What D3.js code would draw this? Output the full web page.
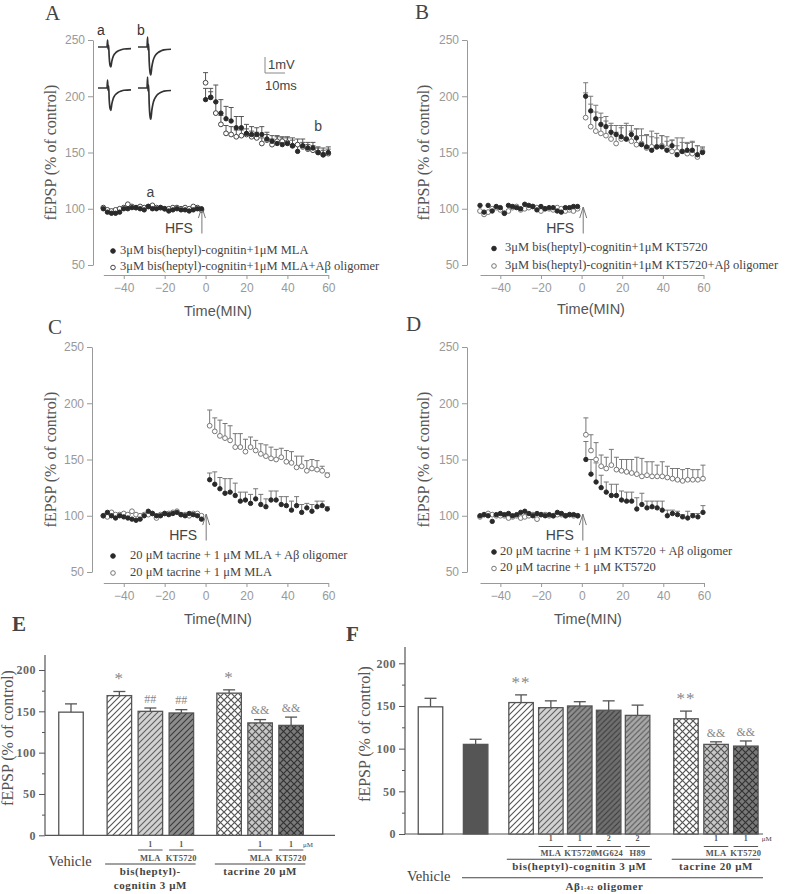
<!DOCTYPE html>
<html><head><meta charset="utf-8">
<script src="https://cdn.jsdelivr.net/npm/d3@7"></script>
<style>body{margin:0;background:#fff}</style>
</head><body>
<script>
// ---------------- DATA ----------------
const xTickVals = [-40,-20,0,20,40,60];
const yTickVals = [50,100,150,200,250];
const preTimes = [-50,-48,-46,-44,-42,-40,-38,-36,-34,-32,-30,-28,-26,-24,-22,-20,-18,-16,-14,-12,-10,-8,-6,-4,-2];
const postTimesA = [0,2.5,5,7.5,10,12.5,15,17.5,20,22.5,25,27.5,30,32.5,35,37.5,40,42.5,45,47.5,50,52.5,55,57.5,60];
const postTimes = [2,4.5,7,9.5,12,14.5,17,19.5,22,24.5,27,29.5,32,34.5,37,39.5,42,44.5,47,49.5,52,54.5,57,59.5];

// Panel A
const aPreFilled = [100,97,96,96,97,100,100,101,101,100,99,102,100,100,101,100,98,99,100,99,99,98,99,100,100];
const aPreOpen   = [101,99,98,99,100,101,104,102,101,102,101,102,103,101,101,100,100,101,101,100,101,100,102,101,99];
const aPostFilled = [197,199,195,185,180,178,172,172,167,166,166,166,162,160,158,157,158,156,151,156,154,154,150,148,150];
const aPostFilledErr = [10,8,15,12,11,12,10,10,8,7,6,7,6,5,6,6,6,7,7,6,5,5,5,6,5];
const aPostOpen = [212,199,185,175,167,166,164,165,166,164,163,158,161,157,160,160,159,156,157,155,153,152,150,148,149];
const aPostOpenErr = [9,5,10,8,7,7,6,5,5,5,5,5,5,5,5,4,4,5,5,4,4,4,4,4,4];
const aLegend = ["3\u03bcM bis(heptyl)-cognitin+1\u03bcM MLA","3\u03bcM bis(heptyl)-cognitin+1\u03bcM MLA+A\u03b2 oligomer"];

// Panel B
const bPreFilled = [103,97,103,98,102,101,96,103,102,101,100,104,103,102,99,102,100,101,101,98,97,101,101,102,102];
const bPreOpen   = [98,95,97,100,101,99,96,98,101,102,99,100,101,102,101,98,100,100,99,101,100,98,99,98,100];
const bPostFilled = [200,187,180,175,173,168,166,164,162,166,163,157,155,152,155,155,152,156,148,151,152,152,148,150];
const bPostFilledErr = [12,13,12,10,9,8,8,8,12,8,8,8,10,12,8,10,8,5,8,8,6,8,8,4];
const bPostOpen = [181,173,169,167,165,162,158,162,162,160,157,158,154,155,155,156,154,151,151,151,149,149,146,151];
const bPostOpenErr = [22,20,17,14,13,12,10,12,14,9,14,13,12,14,12,9,10,10,12,12,10,10,10,4];
const bLegend = ["3\u03bcM bis(heptyl)-cognitin+1\u03bcM KT5720","3\u03bcM bis(heptyl)-cognitin+1\u03bcM KT5720+A\u03b2 oligomer"];

// Panel C
const cPreFilled = [100,103,100,98,100,99,98,97,96,97,100,104,102,100,100,102,101,102,103,101,100,102,101,100,97];
const cPreOpen   = [100,99,103,101,101,102,101,104,101,100,101,101,102,98,101,102,102,103,104,101,101,100,102,102,100];
const cPostFilled = [132,128,124,120,121,118,113,114,111,115,110,108,114,114,110,109,105,109,103,107,104,108,109,106];
const cPostFilledErr = [6,11,10,13,12,11,8,7,8,9,9,7,8,8,7,8,8,8,7,4,6,5,4,2];
const cPostOpen = [180,175,171,169,167,161,161,157,161,158,155,153,151,150,152,148,147,143,144,140,142,141,140,136];
const cPostOpenErr = [14,12,14,13,13,12,12,11,9,9,9,10,10,9,8,10,10,10,9,9,8,8,4,2];
const cLegend = ["20 \u03bcM tacrine + 1 \u03bcM MLA + A\u03b2 oligomer","20 \u03bcM tacrine + 1 \u03bcM MLA"];

// Panel D
const dPreFilled = [100,101,100,95,101,102,101,102,100,101,103,104,102,100,102,101,100,101,100,103,102,100,101,101,100];
const dPreOpen   = [99,101,102,101,100,100,100,98,99,100,98,99,100,101,97,101,101,100,100,101,101,100,101,100,100];
const dPostFilled = [150,137,130,125,121,118,118,114,113,113,106,110,107,108,107,105,100,102,101,99,98,100,99,103];
const dPostFilledErr = [16,13,17,11,9,10,10,8,8,8,10,10,6,5,6,8,5,3,3,2,6,2,3,6];
const dPostOpen = [172,158,150,144,142,145,141,140,139,138,137,135,136,135,135,135,134,133,132,131,132,132,132,133];
const dPostOpenErr = [15,14,15,10,10,14,11,10,11,12,15,16,12,13,10,13,10,9,10,10,10,9,9,12];
const dLegend = ["20 \u03bcM tacrine + 1 \u03bcM KT5720 + A\u03b2 oligomer","20 \u03bcM tacrine + 1 \u03bcM KT5720"];

// Inset traces (ms, normalized amplitude) and trace amplitudes in mV
const traceMs    = [0,4.5,4.8,5.0,5.3,5.6,6.0,6.4,6.9,7.5,8.2,9,10,11.5,13,16.5];
const traceShape = [0,0,0.35,-0.1,0.1,-0.5,-0.9,-1,-0.72,-0.5,-0.36,-0.27,-0.2,-0.14,-0.1,-0.08];
const traceAmps  = [1.25,1.75,1.4,1.95];
const traceNames = ["a","b"];

// Panel E
const eValues = [149,169,150,148,172,136,133];
const eErrors = [10,5,4,4,4,4,10];
const eMarks  = ["","*","##","##","*","&&","&&"];
const eDoses  = ["","","1","1","","1","1"];
const eDrugs  = ["","","MLA","KT5720","","MLA","KT5720"];
const eYTicks = [0,50,100,150,200];

// Panel F
const fValues = [149,105,154,148,150,145,139,135,105,103];
const fErrors = [10,6,9,8,5,11,12,9,3,6];
const fMarks  = ["","","**","","","","","**","&&","&&"];
const fDoses  = ["","","","1","1","2","2","","1","1"];
const fDrugs  = ["","","","MLA","KT5720","MG624","H89","","MLA","KT5720"];
const fYTicks = [0,50,100,150,200];

// ---------------- DRAWING ----------------
const SERIF = "'Liberation Serif','Times New Roman',serif";
const SANS = "'Liberation Sans',Arial,sans-serif";
const svg = d3.select("body").append("svg").attr("width",787).attr("height",894)
  .style("background","#fff");

const defs = svg.append("defs");
function diagPattern(id,bg,stroke,s){
  const p = defs.append("pattern").attr("id",id).attr("patternUnits","userSpaceOnUse")
    .attr("width",s).attr("height",s);
  p.append("rect").attr("width",s).attr("height",s).attr("fill",bg);
  p.append("path").attr("d",`M${-s/2},${s/2} L${s/2},${-s/2} M0,${s} L${s},0 M${s/2},${s*1.5} L${s*1.5},${s/2}`)
    .attr("stroke",stroke).attr("stroke-width",1.1);
}
function crossPattern(id,bg,stroke,s){
  const p = defs.append("pattern").attr("id",id).attr("patternUnits","userSpaceOnUse")
    .attr("width",s).attr("height",s);
  p.append("rect").attr("width",s).attr("height",s).attr("fill",bg);
  p.append("path").attr("d",`M0,0 L${s},${s} M${s},0 L0,${s}`)
    .attr("stroke",stroke).attr("stroke-width",1.2);
}
diagPattern("dW","#ffffff","#555",6);
diagPattern("dL","#d2d2d2","#606060",6);
diagPattern("dD","#8c8c8c","#3a3a3a",6);
diagPattern("dM","#8e8e8e","#444",5.5);
diagPattern("dD2","#6f6f6f","#3a3a3a",5.5);
diagPattern("dM2","#a8a8a8","#555",5.5);
crossPattern("cW","#ffffff","#555",7);
crossPattern("cL","#c9c9c9","#555",7);
crossPattern("cD","#7a7a7a","#333",7);

function timePanel(p){
  const x = d3.scaleLinear().domain([-50,60]).range(p.xr);
  const y = d3.scaleLinear().domain([50,250]).range(p.yr);
  const g = svg.append("g");
  const ya = g.append("g").attr("transform",`translate(${p.yx},0)`)
    .call(d3.axisLeft(y).tickValues(yTickVals).tickSize(5).tickSizeOuter(0).tickPadding(3));
  ya.select(".domain").attr("stroke","#999");
  ya.selectAll(".tick line").attr("stroke","#999");
  ya.selectAll(".tick text").attr("fill","#999").style("font-family",SANS).style("font-size","12px");
  const xa = g.append("g").attr("transform",`translate(0,${p.xy})`)
    .call(d3.axisBottom(x).tickValues(xTickVals).tickSize(4).tickSizeOuter(0).tickPadding(4));
  xa.select(".domain").attr("stroke","#999");
  xa.selectAll(".tick line").attr("stroke","#999");
  xa.selectAll(".tick text").attr("fill","#999").style("font-family",SANS).style("font-size","12px");
  g.append("text").attr("x",p.tx).attr("y",p.ty).attr("text-anchor","middle")
    .attr("dominant-baseline","middle").style("font-family",SANS).style("font-size","14.5px")
    .attr("fill","#555").text("Time(MIN)");
  const ymid = (p.yr[0]+p.yr[1])/2;
  g.append("text").attr("transform",`translate(${p.lx},${ymid}) rotate(-90)`)
    .attr("text-anchor","middle").attr("dominant-baseline","middle")
    .style("font-family",SERIF).style("font-size","16px").attr("fill","#555")
    .text("fEPSP (% of control)");
  g.append("text").attr("x",p.letter[1]).attr("y",p.letter[2]).attr("dominant-baseline","middle")
    .style("font-family",SERIF).style("font-size","21px").attr("fill","#444").text(p.letter[0]);
  const ax = x(p.hfsT);
  g.append("line").attr("x1",ax).attr("x2",ax).attr("y1",y(78)).attr("y2",y(101.5))
    .attr("stroke","#777").attr("stroke-width",1);
  g.append("path").attr("d",`M${ax-3.5},${y(101.5)+11} L${ax},${y(101.5)} L${ax+3.5},${y(101.5)+11}`)
    .attr("fill","none").attr("stroke","#777").attr("stroke-width",1);
  g.append("text").attr("x",ax-9).attr("y",y(82)).attr("text-anchor","end").attr("dominant-baseline","middle")
    .style("font-family",SANS).style("font-size","14px").attr("fill","#444").text("HFS");
  p.series.forEach(s=>{
    const pts = s.times.map((t,i)=>({t, v:s.vals[i], e: s.errs? s.errs[i]:0}));
    const eg = g.append("g").attr("stroke",p.errColor).attr("stroke-width",1);
    pts.filter(d=>d.e>0).forEach(d=>{
      eg.append("line").attr("x1",x(d.t)).attr("x2",x(d.t)).attr("y1",y(d.v)).attr("y2",y(d.v+d.e));
      eg.append("line").attr("x1",x(d.t)-2.5).attr("x2",x(d.t)+2.5).attr("y1",y(d.v+d.e)).attr("y2",y(d.v+d.e));
    });
  });
  p.series.forEach(s=>{
    g.append("g").selectAll("circle").data(s.times.map((t,i)=>[t,s.vals[i]])).join("circle")
      .attr("cx",d=>x(d[0])).attr("cy",d=>y(d[1])).attr("r",s.filled?2.2:2.4)
      .attr("fill",s.filled?"#2a2a2a":"#fff").attr("stroke",s.filled?"#2a2a2a":p.openColor).attr("stroke-width",1);
  });
  p.legend.forEach((txt,i)=>{
    const ly = p.leg.y + i*p.leg.dy;
    g.append("circle").attr("cx",p.leg.mx).attr("cy",ly).attr("r",2.3)
      .attr("fill",i===p.leg.filledIndex?"#2a2a2a":"#fff")
      .attr("stroke",i===p.leg.filledIndex?"#2a2a2a":p.openColor);
    g.append("text").attr("x",p.leg.tx).attr("y",ly).attr("dominant-baseline","middle")
      .style("font-family",SERIF).style("font-size","12.5px").attr("fill","#444").text(txt);
  });
  return {x,y,g};
}

const A = timePanel({xr:[103.3,328.3], yr:[265,40], yx:93, xy:275, tx:218, ty:312, lx:52,
  letter:["A",45,15], hfsT:-1.8, errColor:"#555", openColor:"#444",
  series:[
    {times:preTimes, vals:aPreOpen, filled:false},
    {times:preTimes, vals:aPreFilled, filled:true},
    {times:postTimesA, vals:aPostOpen, errs:aPostOpenErr, filled:false},
    {times:postTimesA, vals:aPostFilled, errs:aPostFilledErr, filled:true}],
  legend:aLegend, leg:{mx:113, tx:120, y:251, dy:16.5, filledIndex:0}});
const B = timePanel({xr:[480,703.5], yr:[265,40], yx:467, xy:275, tx:591, ty:310, lx:425,
  letter:["B",415,14], hfsT:0.8, errColor:"#777", openColor:"#777",
  series:[
    {times:preTimes, vals:bPreOpen, filled:false},
    {times:preTimes, vals:bPreFilled, filled:true},
    {times:postTimes, vals:bPostOpen, errs:bPostOpenErr, filled:false},
    {times:postTimes, vals:bPostFilled, errs:bPostFilledErr, filled:true}],
  legend:bLegend, leg:{mx:494, tx:505, y:248.5, dy:17.5, filledIndex:0}});
const C = timePanel({xr:[103.3,328.3], yr:[572,347], yx:92, xy:583, tx:218, ty:620, lx:52,
  letter:["C",48,329], hfsT:0.3, errColor:"#777", openColor:"#777",
  series:[
    {times:preTimes, vals:cPreOpen, filled:false},
    {times:preTimes, vals:cPreFilled, filled:true},
    {times:postTimes, vals:cPostOpen, errs:cPostOpenErr, filled:false},
    {times:postTimes, vals:cPostFilled, errs:cPostFilledErr, filled:true}],
  legend:cLegend, leg:{mx:113, tx:130, y:556, dy:17, filledIndex:0}});
const D = timePanel({xr:[480,704], yr:[572,347], yx:467, xy:583, tx:588, ty:620, lx:425,
  letter:["D",406,326], hfsT:0.5, errColor:"#777", openColor:"#777",
  series:[
    {times:preTimes, vals:dPreOpen, filled:false},
    {times:preTimes, vals:dPreFilled, filled:true},
    {times:postTimes, vals:dPostOpen, errs:dPostOpenErr, filled:false},
    {times:postTimes, vals:dPostFilled, errs:dPostFilledErr, filled:true}],
  legend:dLegend, leg:{mx:494, tx:500, y:552, dy:16.5, filledIndex:0}});

A.g.append("text").attr("x",A.x(-27)).attr("y",A.y(114)).attr("text-anchor","middle").attr("dominant-baseline","middle")
  .style("font-family",SANS).style("font-size","14px").attr("fill","#444").text("a");
A.g.append("text").attr("x",A.x(55)).attr("y",A.y(172)).attr("text-anchor","middle").attr("dominant-baseline","middle")
  .style("font-family",SANS).style("font-size","14px").attr("fill","#444").text("b");

// Inset traces
const msScale = d3.scaleLinear().domain([0,10]).range([0,20]);
const mvScale = d3.scaleLinear().domain([0,1]).range([0,-16]);
const traceOrigins = [[98,47],[138,47],[98,88],[138,88]];
traceAmps.forEach((amp,i)=>{
  const [ox,oy] = traceOrigins[i];
  const line = d3.line().x(d=>ox+msScale(d[0])).y(d=>oy+mvScale(d[1]*amp)).curve(d3.curveMonotoneX);
  svg.append("path").attr("d",line(traceMs.map((t,j)=>[t,traceShape[j]])))
    .attr("fill","none").attr("stroke","#333").attr("stroke-width",1.7);
});
traceNames.forEach((n,i)=>{
  svg.append("text").attr("x",traceOrigins[i][0]+3).attr("y",31).attr("text-anchor","middle")
    .attr("dominant-baseline","middle").style("font-family",SANS).style("font-size","14px")
    .attr("fill","#333").text(n);
});
const sbx = 265, sby = 73;
svg.append("path").attr("d",`M${sbx},${sby+mvScale(1)} L${sbx},${sby} L${sbx+msScale(10)},${sby}`)
  .attr("fill","none").attr("stroke","#888").attr("stroke-width",1);
svg.append("text").attr("x",sbx+3).attr("y",66).attr("dominant-baseline","middle")
  .style("font-family",SANS).style("font-size","13px").attr("fill","#444").text("1mV");
svg.append("text").attr("x",sbx).attr("y",87).attr("dominant-baseline","middle")
  .style("font-family",SANS).style("font-size","13px").attr("fill","#444").text("10ms");

// ---------------- BAR PANELS ----------------
function barPanel(p){
  const g = svg.append("g");
  const y = d3.scaleLinear().domain([0,200]).range([p.y0,p.y200]);
  const x = d3.scaleLinear().domain([0,1]).range([p.x0,p.x0+p.slot]);
  g.append("line").attr("x1",p.ax).attr("x2",p.ax).attr("y1",y(0)).attr("y2",y(p.ytop)).attr("stroke","#555").attr("stroke-width",1.2);
  g.append("line").attr("x1",p.ax).attr("x2",p.xend).attr("y1",y(0)).attr("y2",y(0)).attr("stroke","#555").attr("stroke-width",1.2);
  const ya = g.append("g").attr("transform",`translate(${p.ax},0)`)
    .call(d3.axisLeft(y).tickValues(p.ticks).tickSize(6).tickSizeOuter(0).tickPadding(3));
  ya.select(".domain").remove();
  ya.selectAll(".tick line").attr("stroke","#555");
  ya.selectAll(".tick text").attr("fill","#666").style("font-family",SERIF).style("font-size","12px").style("font-weight","bold")
    .style("letter-spacing","0.5px");
  g.append("g").attr("transform",`translate(${p.ax},0)`)
    .call(d3.axisLeft(y).tickValues([25,75,125,175]).tickSize(3).tickFormat(""))
    .call(a=>{a.select(".domain").remove(); a.selectAll(".tick line").attr("stroke","#555");});
  g.append("text").attr("transform",`translate(${p.lx},${p.ly}) rotate(-90)`)
    .attr("text-anchor","middle").attr("dominant-baseline","middle")
    .style("font-family",SERIF).style("font-size","16px").attr("fill","#555").text("fEPSP (% of control)");
  g.append("text").attr("x",p.letter[1]).attr("y",p.letter[2]).attr("dominant-baseline","middle")
    .style("font-family",SERIF).style("font-size","21px").style("font-weight","bold").attr("fill","#444").text(p.letter[0]);
  const bw = p.bw;
  p.values.forEach((v,i)=>{
    const cx = x(p.slots[i]);
    g.append("rect").attr("x",cx-bw/2).attr("y",y(v)).attr("width",bw).attr("height",y(0)-y(v))
      .attr("fill",p.fills[i]).attr("stroke","#555").attr("stroke-width",1.3);
    const e = p.errors[i];
    g.append("line").attr("x1",cx).attr("x2",cx).attr("y1",y(v)).attr("y2",y(v+e)).attr("stroke","#555").attr("stroke-width",1.3);
    g.append("line").attr("x1",cx-6).attr("x2",cx+6).attr("y1",y(v+e)).attr("y2",y(v+e)).attr("stroke","#555").attr("stroke-width",1.3);
    if(p.marks[i]){
      const star = p.marks[i].includes("*");
      g.append("text").attr("x",cx).attr("y",y(v+e)-(star?11:8)).attr("text-anchor","middle").attr("dominant-baseline","middle")
        .style("font-family",SERIF).style("font-size",star?"17px":"12px").style("letter-spacing",star?"1px":"0px")
        .attr("fill","#888").text(p.marks[i]);
    }
    if(p.doses[i]){
      g.append("text").attr("x",cx).attr("y",p.rowDose).attr("text-anchor","middle").attr("dominant-baseline","middle")
        .style("font-family",SERIF).style("font-size","8px").style("font-weight","bold").attr("fill","#555").text(p.doses[i]);
      g.append("line").attr("x1",cx-bw/2).attr("x2",cx+bw/2).attr("y1",p.rowLine).attr("y2",p.rowLine).attr("stroke","#555");
      g.append("text").attr("x",cx).attr("y",p.rowDrug).attr("text-anchor","middle").attr("dominant-baseline","middle")
        .style("font-family",SERIF).style("font-size","8.5px").style("font-weight","bold").style("letter-spacing","0.3px")
        .attr("fill","#555").text(p.drugs[i]);
    }
  });
  return {x,y,g};
}

const E = barPanel({y0:835.3, y200:670, ytop:218, ax:45, xend:335, x0:71, slot:31, bw:24.5,
  slots:[0,1.56,2.56,3.56,5.1,6.1,7.1], values:eValues, errors:eErrors, marks:eMarks, doses:eDoses, drugs:eDrugs,
  fills:["#fff","url(#dW)","url(#dL)","url(#dD)","url(#cW)","url(#cL)","url(#cD)"],
  ticks:eYTicks, lx:9, ly:738, letter:["E",12,626], rowDose:845, rowLine:850, rowDrug:859});
const F = barPanel({y0:834, y200:663.3, ytop:219, ax:405, xend:763, x0:430.5, slot:29.5, bw:24.5,
  slots:[0,1.53,3.07,4.08,5.06,6.04,7.02,8.66,9.68,10.69], values:fValues, errors:fErrors, marks:fMarks, doses:fDoses, drugs:fDrugs,
  fills:["#fff","#555","url(#dW)","url(#dL)","url(#dM)","url(#dD2)","url(#dM2)","url(#cW)","url(#cL)","url(#cD)"],
  ticks:fYTicks, lx:366, ly:734, letter:["F",346,636], rowDose:839, rowLine:846.5, rowDrug:854});

function grpLine(P,i0,i1,bw,yy){
  P.g.append("line").attr("x1",P.x(i0)-bw/2-2).attr("x2",P.x(i1)+bw/2+2).attr("y1",yy).attr("y2",yy)
    .attr("stroke","#444").attr("stroke-width",1.1);
}
function lbl(P,xx,yy,t,size,bold,anchor){
  return P.g.append("text").attr("x",xx).attr("y",yy).attr("text-anchor",anchor||"middle").attr("dominant-baseline","middle")
    .style("font-family",SERIF).style("font-size",size+"px").style("font-weight",bold?"bold":"normal")
    .style("letter-spacing",bold?"0.6px":"0px").attr("fill","#444").text(t);
}
grpLine(E,1.56,3.56,24.5,864);
grpLine(E,5.1,7.1,24.5,864);
lbl(E,E.x(2.56),872,"bis(heptyl)-",11,true);
lbl(E,E.x(2.56),886,"cognitin 3 \u03bcM",11,true);
lbl(E,E.x(6.1),872,"tacrine 20 \u03bcM",11,true);
lbl(E,E.x(7.1)+17,845,"\u03bcM",7,false);
lbl(E,70,863,"Vehicle",14.5,false);
grpLine(F,3.07,7.02,24.5,859.3);
grpLine(F,8.66,10.69,24.5,859.3);
lbl(F,F.x(5.05),867.3,"bis(heptyl)-cognitin 3 \u03bcM",11,true);
lbl(F,F.x(9.68),867.3,"tacrine 20 \u03bcM",11,true);
lbl(F,F.x(10.69)+21,839,"\u03bcM",7,false);
lbl(F,407,878,"Vehicle",14.5,false,"start");
F.g.append("line").attr("x1",462).attr("x2",763).attr("y1",877.7).attr("y2",877.7).attr("stroke","#444").attr("stroke-width",1.1);
const ab = lbl(F,F.x(5.9),887,"",11,true);
ab.append("tspan").text("A\u03b2");
ab.append("tspan").attr("font-size","6px").attr("dy","2").text("1-42");
ab.append("tspan").attr("dy","-2").text(" oligomer");
</script>
</body></html>
